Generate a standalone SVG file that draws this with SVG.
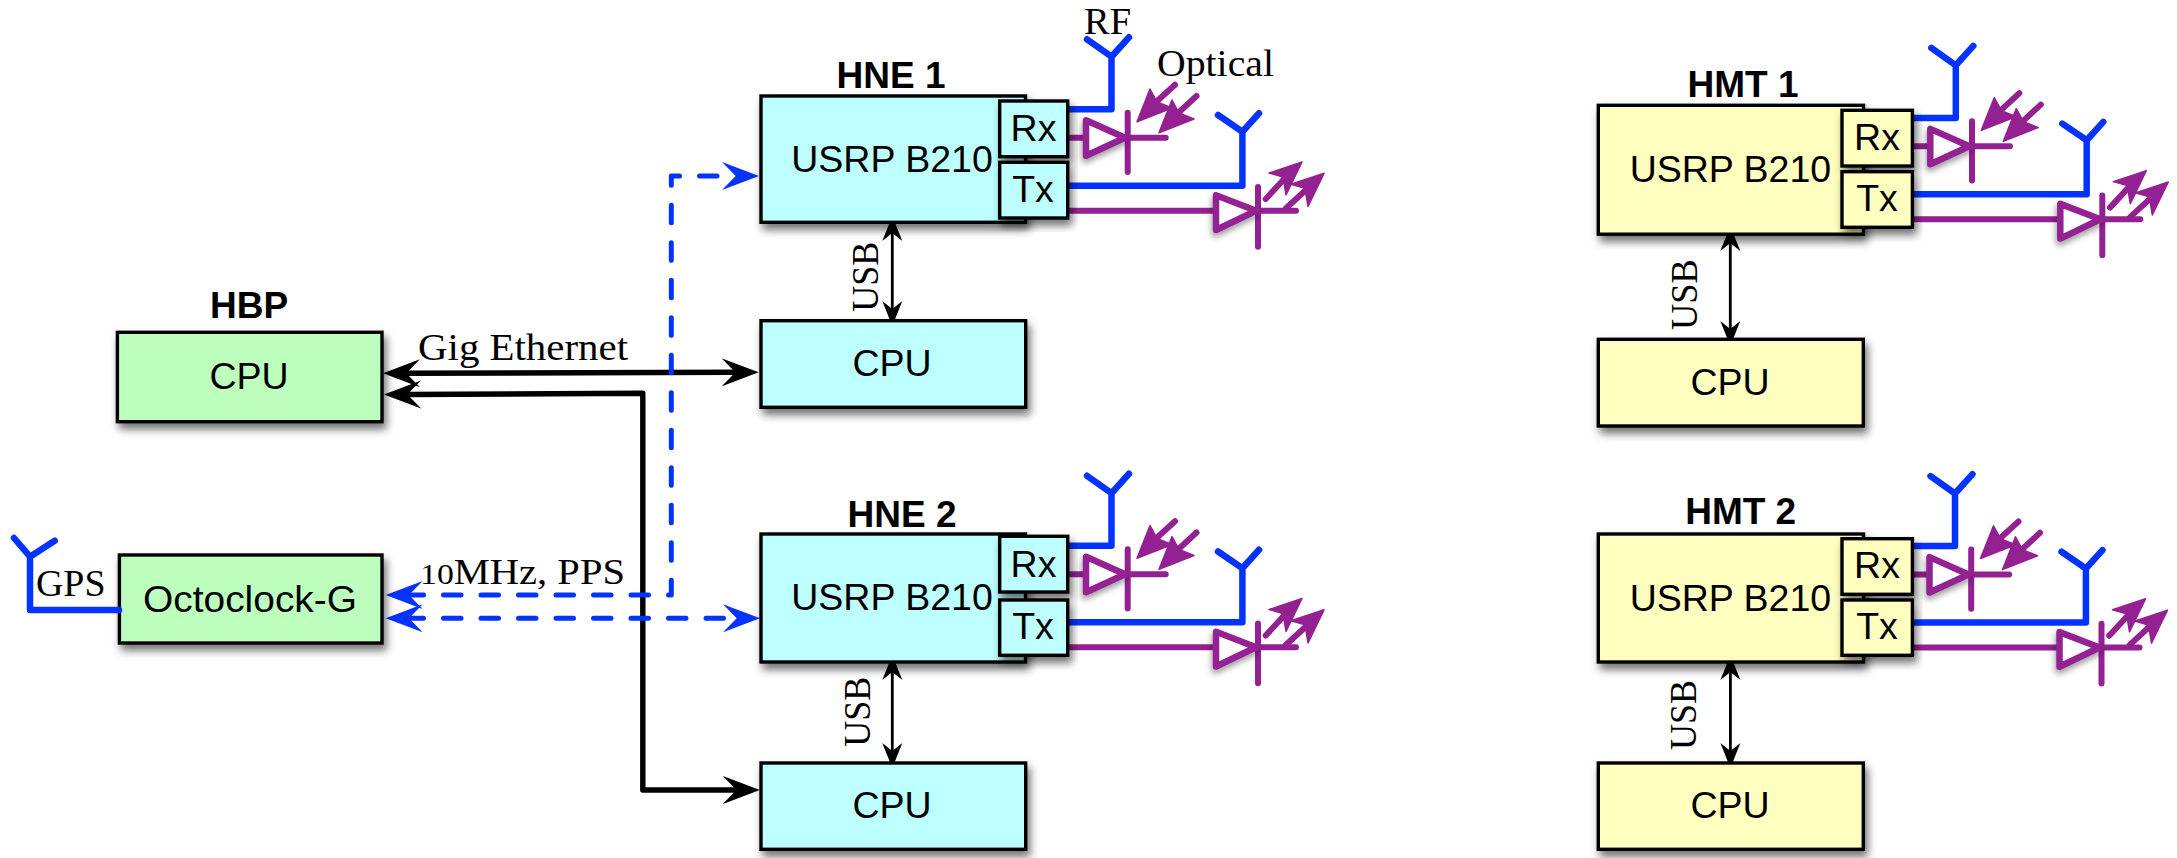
<svg xmlns="http://www.w3.org/2000/svg" xmlns:xlink="http://www.w3.org/1999/xlink" width="2177" height="858" viewBox="0 0 2177 858">
<style>
.box{stroke:#000;stroke-width:3.4;filter:url(#sh)}
.cy{fill:#bdffff}.gr{fill:#bdffbd}.ye{fill:#ffffbf}
text{fill:#000}
.s{font-family:"Liberation Sans",Arial,sans-serif;font-size:37.5px;text-anchor:middle}
.b{font-family:"Liberation Sans",Arial,sans-serif;font-size:37px;font-weight:bold;text-anchor:middle}
.t{font-family:"Liberation Serif","Times New Roman",serif;font-size:38.5px}
.rf{fill:none;stroke:#0433ff;stroke-width:6.5;stroke-linecap:round;stroke-linejoin:round}
.op{fill:none;stroke:#942192;stroke-width:6;stroke-linecap:round;stroke-linejoin:round}
.tri{fill:#fff;stroke:#942192;stroke-width:6.5;stroke-linejoin:round;filter:url(#sh2)}
.head{fill:#942192;stroke:#942192;stroke-width:1.5;stroke-linejoin:round}
.k{fill:none;stroke:#000;stroke-width:5.4;stroke-linejoin:round;marker-start:url(#ak);marker-end:url(#ak)}
.u{fill:none;stroke:#000;stroke-width:2.8;marker-start:url(#au);marker-end:url(#au)}
.d{fill:none;stroke:#0433ff;stroke-width:5;stroke-linecap:round;stroke-linejoin:round;stroke-dasharray:17.5 20;stroke-dashoffset:3;marker-start:url(#ab);marker-end:url(#ab)}
</style>
<defs>
<filter id="sh" x="-15%" y="-20%" width="130%" height="145%"><feDropShadow dx="3" dy="6" stdDeviation="4.5" flood-color="#000" flood-opacity="0.55"/></filter>
<filter id="sh2" x="-30%" y="-30%" width="160%" height="170%"><feDropShadow dx="-1" dy="4" stdDeviation="3" flood-color="#000" flood-opacity="0.4"/></filter>
<marker id="ak" markerUnits="userSpaceOnUse" markerWidth="38" markerHeight="30" viewBox="0 0 38 30" refX="13.7" refY="15" orient="auto-start-reverse"><path d="M0,1 L37,15 L0,29 L13.7,15Z" fill="#000"/></marker>
<marker id="ab" markerUnits="userSpaceOnUse" markerWidth="38" markerHeight="30" viewBox="0 0 38 30" refX="13.7" refY="15" orient="auto-start-reverse"><path d="M0,1 L37,15 L0,29 L13.7,15Z" fill="#0433ff"/></marker>
<marker id="au" markerUnits="userSpaceOnUse" markerWidth="26" markerHeight="22" viewBox="0 0 26 22" refX="8" refY="11" orient="auto-start-reverse"><path d="M0,1 L25,11 L0,21 L8,11Z" fill="#000"/></marker>
<g id="links">
<path class="rf" d="M1068,109.3 H1111.5 V56.7 M1087,39.3 L1111.5,56.7 L1129,37.3"/>
<path class="rf" d="M1068,185.7 H1242.4 V131.7 M1218,115 L1242.4,131.7 L1259,113.3"/>
<path class="op" d="M1068,137.7 H1086 M1127.7,112.7 V172 M1127.7,137.7 H1165.7"/>
<path class="tri" d="M1086,120.3 V155.7 L1125,137.7Z"/>
<path class="op" d="M1175,84.7 L1155,103 M1196.5,96 L1177,114"/>
<path class="head" d="M1137,121.7 L1150,89 L1157,102 L1172,108Z M1159,132.7 L1172,100 L1179,113 L1194,119Z"/>
<path class="op" d="M1068,210.7 H1216 M1258,187 V246.7 M1258,210.7 H1296"/>
<path class="tri" d="M1216,195.3 V230 L1256,210.7Z"/>
<path class="op" d="M1265.7,199 L1285,178 M1286,208.3 L1307,189"/>
<path class="head" d="M1302,162 L1269,173 L1283,177 L1286,195Z M1324,173.3 L1291,184.3 L1305,188.3 L1308,206.3Z"/>
</g>
</defs>

<g id="connectors">
<path class="k" d="M406.3,373.3 L735.4,372.3"/>
<path class="k" d="M407.3,394.5 L642.8,393.3 V790 H736.5"/>
<path class="d" d="M409,595 H671.3 V176 H735.7"/>
<path class="d" d="M409,618.3 H736.7"/>
<path class="u" d="M892.3,233 V309"/>
<path class="u" d="M892.3,672 V751"/>
<path class="u" d="M1730.3,243 V329"/>
<path class="u" d="M1730.4,672 V751"/>
</g>

<g id="hbp">
<rect class="box gr" x="117.4" y="332.3" width="264.6" height="89.4"/>
<text class="s" x="249" y="389.3">CPU</text>
<text class="b" x="249" y="318.3">HBP</text>
</g>
<g id="octoclock">
<rect class="box gr" x="119.4" y="555" width="262.6" height="88"/>
<text class="s" x="250" y="611.7" textLength="214" lengthAdjust="spacingAndGlyphs">Octoclock-G</text>
<path class="rf" d="M119,610 H30 V556.7 M14,538 L30,556.7 L54.7,540.7"/>
<text class="t" x="36" y="596" textLength="69.5" lengthAdjust="spacingAndGlyphs">GPS</text>
</g>

<g id="hne1">
<use xlink:href="#links" href="#links"/>
<text class="b" x="891" y="88">HNE 1</text>
<rect class="box cy" x="761" y="96" width="264.5" height="126.3"/>
<text class="s" x="892" y="171.7">USRP B210</text>
<rect class="box cy" x="999.7" y="101" width="68" height="55.7"/>
<text class="s" x="1033.5" y="141.3">Rx</text>
<rect class="box cy" x="999.7" y="162.3" width="68" height="55.7"/>
<text class="s" x="1033" y="201.7">Tx</text>
</g>
<g id="hne1-cpu">
<rect class="box cy" x="761" y="320.7" width="264.7" height="86.6"/>
<text class="s" x="892" y="375.7">CPU</text>
<text class="t" transform="translate(878.3,311.7) rotate(-90)" textLength="70" lengthAdjust="spacingAndGlyphs">USB</text>
</g>

<g id="hne2">
<use xlink:href="#links" href="#links" transform="translate(0,436.5)"/>
<text class="b" x="902" y="527.3">HNE 2</text>
<rect class="box cy" x="761" y="534" width="264.5" height="128"/>
<text class="s" x="892" y="610">USRP B210</text>
<rect class="box cy" x="999.7" y="536.3" width="68" height="55.7"/>
<text class="s" x="1033.5" y="577.3">Rx</text>
<rect class="box cy" x="999.7" y="600" width="68" height="55.3"/>
<text class="s" x="1033" y="639">Tx</text>
</g>
<g id="hne2-cpu">
<rect class="box cy" x="761" y="763" width="264.7" height="86.3"/>
<text class="s" x="892" y="817.7">CPU</text>
<text class="t" transform="translate(870.4,746.7) rotate(-90)" textLength="70" lengthAdjust="spacingAndGlyphs">USB</text>
</g>

<g id="hmt1">
<use xlink:href="#links" href="#links" transform="translate(844.3,8.6)"/>
<text class="b" x="1743" y="97.3">HMT 1</text>
<rect class="box ye" x="1598.3" y="105.3" width="265.2" height="128.9"/>
<text class="s" x="1730.4" y="182.3">USRP B210</text>
<rect class="box ye" x="1842" y="110.3" width="70.4" height="55.7"/>
<text class="s" x="1877" y="150">Rx</text>
<rect class="box ye" x="1842" y="171.7" width="70.4" height="55.6"/>
<text class="s" x="1877" y="211">Tx</text>
</g>
<g id="hmt1-cpu">
<rect class="box ye" x="1598.3" y="339.3" width="265" height="86.7"/>
<text class="s" x="1730" y="395">CPU</text>
<text class="t" transform="translate(1696.7,330) rotate(-90)" textLength="70.7" lengthAdjust="spacingAndGlyphs">USB</text>
</g>

<g id="hmt2">
<use xlink:href="#links" href="#links" transform="translate(843.5,436.8)"/>
<text class="b" x="1740.7" y="524.3">HMT 2</text>
<rect class="box ye" x="1598.3" y="534" width="265.2" height="128"/>
<text class="s" x="1730.4" y="610.7">USRP B210</text>
<rect class="box ye" x="1842" y="538.7" width="70.4" height="55.6"/>
<text class="s" x="1877" y="578.3">Rx</text>
<rect class="box ye" x="1842" y="600" width="70.4" height="55.3"/>
<text class="s" x="1877" y="639">Tx</text>
</g>
<g id="hmt2-cpu">
<rect class="box ye" x="1598.3" y="763" width="265" height="86.3"/>
<text class="s" x="1730" y="817.7">CPU</text>
<text class="t" transform="translate(1696,750) rotate(-90)" textLength="70" lengthAdjust="spacingAndGlyphs">USB</text>
</g>

<g id="labels">
<text class="t" x="1084" y="34.3" textLength="47" lengthAdjust="spacingAndGlyphs">RF</text>
<text class="t" x="1157" y="76" textLength="117" lengthAdjust="spacingAndGlyphs">Optical</text>
<text class="t" x="418" y="360" textLength="210" lengthAdjust="spacingAndGlyphs">Gig Ethernet</text>
<text class="t" x="420" y="584.3" font-size="36" style="font-size:36px" textLength="205" lengthAdjust="spacingAndGlyphs"><tspan style="font-size:30px">10</tspan>MHz, PPS</text>
</g>
</svg>
